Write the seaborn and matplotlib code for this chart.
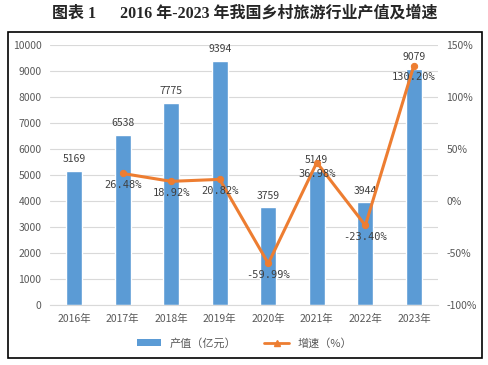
import numpy as np
import pandas as pd
import matplotlib
matplotlib.use('Agg')
import matplotlib.pyplot as plt
import seaborn as sns
from matplotlib.patches import Rectangle
from matplotlib.lines import Line2D
from matplotlib.patches import Patch

years = ['2016年', '2017年', '2018年', '2019年', '2020年', '2021年', '2022年', '2023年']
output_value = [5169, 6538, 7775, 9394, 3759, 5149, 3944, 9079]
growth = [np.nan, 26.48, 18.92, 20.82, -59.99, 36.98, -23.40, 130.20]

BAR_COLOR = '#5B9BD5'
LINE_COLOR = '#ED7D31'
TICK_COLOR = '#595959'

sns.set_style('white')
plt.rcParams['font.family'] = ['Noto Sans CJK SC', 'DejaVu Sans']

df = pd.DataFrame({'year': years, 'value': output_value, 'growth': growth})
df['pos'] = np.arange(len(df))

fig = plt.figure(figsize=(4.89, 3.65), dpi=100)
ax = fig.add_axes([0.102, 0.164, 0.794, 0.713])

sns.barplot(data=df, x='year', y='value', color=BAR_COLOR, width=0.33,
            saturation=1, ax=ax)
ax.set_ylim(0, 10000)
ax.set_yticks(range(0, 10001, 1000))
ax.set_xlim(-0.5, len(years) - 0.5)
ax.yaxis.grid(True, color='#D9D9D9', linewidth=0.8)
ax.set_axisbelow(True)
ax.set_xlabel('')
ax.set_ylabel('')
for s in ax.spines.values():
    s.set_visible(False)
ax.spines['bottom'].set_visible(True)
ax.spines['bottom'].set_color('#D9D9D9')
ax.tick_params(axis='both', length=0, labelsize=7.5, colors=TICK_COLOR, pad=6)

for i, v in enumerate(output_value):
    ax.text(i, v + 250, str(v), ha='center', va='bottom', fontsize=7.5, color='#404040')

ax2 = ax.twinx()
line_df = df.dropna()
sns.lineplot(data=line_df, x='pos', y='growth', color=LINE_COLOR, linewidth=2.2,
             marker='o', markersize=4.5, markeredgecolor=LINE_COLOR, ax=ax2)
ax2.set_ylim(-100, 150)
ax2.set_yticks(range(-100, 151, 50))
ax2.set_yticklabels([f'{t}%' for t in range(-100, 151, 50)])
ax2.set_ylabel('')
ax2.set_xlim(-0.5, len(years) - 0.5)
for s in ax2.spines.values():
    s.set_visible(False)
ax2.tick_params(axis='y', length=0, labelsize=7.5, colors=TICK_COLOR, pad=6)

for p, g in zip(line_df['pos'], line_df['growth']):
    ax2.text(p, g - 6, f'{g:.2f}%', ha='center', va='top', fontsize=7.5,
             color='#404040', family=['DejaVu Sans Mono', 'Noto Sans CJK SC'])

handles = [Patch(facecolor=BAR_COLOR, edgecolor='none'),
           Line2D([0], [0], color=LINE_COLOR, linewidth=2, marker='^', markersize=4)]
fig.legend(handles, ['产值（亿元）', '增速（%）'], loc='center', bbox_to_anchor=(0.5, 0.06),
           ncol=2, frameon=False, fontsize=8, handlelength=2.2, columnspacing=2.5,
           labelcolor=TICK_COLOR)

fig.patches.append(Rectangle((8 / 489, 1 - 358 / 365), 474 / 489, 326 / 365,
                             transform=fig.transFigure, fill=False, edgecolor='black',
                             linewidth=1.2))

fig.text(0.5, 1 - 14 / 365, '图表 1      2016 年-2023 年我国乡村旅游行业产值及增速',
         ha='center', va='center', fontsize=11.5, fontweight='bold',
         family=['Liberation Serif', 'Noto Sans CJK SC'])

fig.savefig('out.png', dpi=100)
